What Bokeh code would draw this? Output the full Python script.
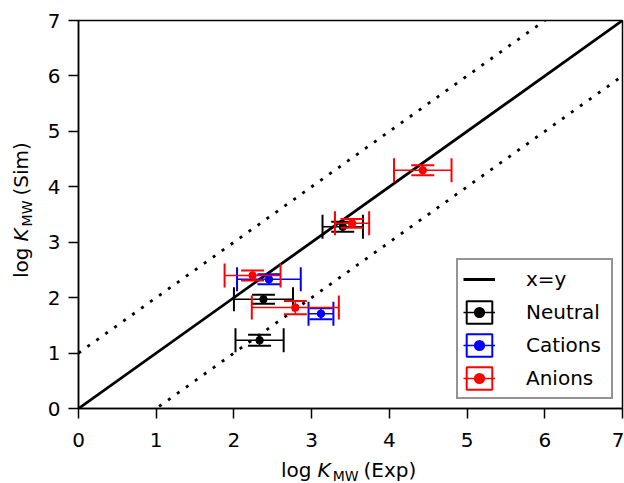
import numpy as np
from bokeh.plotting import figure
from bokeh.models import (ColumnDataSource, Legend, LegendItem, FixedTicker, Range1d, Div)
from bokeh.layouts import column, row
from bokeh.embed import file_html
from bokeh.resources import INLINE

# ---------------- data ----------------
ticks = [0, 1, 2, 3, 4, 5, 6, 7]
ref_x = [0, 7]
band = 1.0

neutral_x = [2.33, 2.38, 3.40]
neutral_y = [1.23, 1.97, 3.28]
neutral_xerr = [0.31, 0.38, 0.26]
neutral_yerr = [0.10, 0.08, 0.09]

cation_x = [2.45, 3.12]
cation_y = [2.33, 1.71]
cation_xerr = [0.41, 0.16]
cation_yerr = [0.09, 0.10]

anion_x = [2.24, 2.79, 3.52, 4.43]
anion_y = [2.40, 1.82, 3.34, 4.30]
anion_xerr = [0.36, 0.56, 0.22, 0.37]
anion_yerr = [0.09, 0.12, 0.08, 0.09]

series = [
    ("Neutral", "#000000", neutral_x, neutral_y, neutral_xerr, neutral_yerr),
    ("Cations", "#0000ff", cation_x, cation_y, cation_xerr, cation_yerr),
    ("Anions", "#ff0000", anion_x, anion_y, anion_xerr, anion_yerr),
]

FONT = "DejaVu Sans"
YL_W = 36          # width of the y-label strip
P_W, P_H = 588, 450
XL_H = 33          # height of the x-label strip

p = figure(width=P_W, height=P_H, x_range=Range1d(0, 7), y_range=Range1d(0, 7),
           output_backend="svg", toolbar_location=None,
           min_border_left=42, min_border_right=2, min_border_top=20, min_border_bottom=42)
p.grid.visible = False
p.outline_line_color = "black"
p.outline_line_width = 1.5
p.background_fill_color = "white"
p.border_fill_color = "white"

for ax in (p.xaxis, p.yaxis):
    ax.ticker = FixedTicker(ticks=ticks)
    ax.major_label_text_font = FONT
    ax.major_label_text_font_size = "20px"
    ax.major_label_text_color = "black"
    ax.minor_tick_line_color = None
    ax.major_tick_out = 10
    ax.major_tick_in = 0
    ax.major_tick_line_width = 1.5
    ax.axis_line_width = 1.5
    ax.axis_line_color = "black"
    ax.major_tick_line_color = "black"
p.xaxis.major_label_standoff = 14
p.yaxis.major_label_standoff = 8

# reference lines
ref_arr = np.array(ref_x, dtype=float)
line_r = p.line(ref_arr, ref_arr, line_color="black", line_width=2.8)
p.line(ref_arr, ref_arr + band, line_color="black", line_width=2.8, line_dash="3 8")
p.line(ref_arr, ref_arr - band, line_color="black", line_width=2.8, line_dash="3 8")

items = [LegendItem(label="x=y", renderers=[line_r])]
for name, color, xs, ys, xe, ye in series:
    x = np.array(xs); y = np.array(ys); dx = np.array(xe); dy = np.array(ye)
    src = ColumnDataSource(dict(x=x, y=y, xl=x - dx, xu=x + dx, yl=y - dy, yu=y + dy))
    # legend-only glyphs (renderers hidden on the plot)
    box = p.quad(left="xl", right="xu", bottom="yl", top="yu", source=src,
                 fill_alpha=0, line_color=color, line_width=2, visible=False)
    ldot = p.scatter(x="x", y="y", source=src, marker="circle", size=8,
                     fill_color=color, line_color=None, visible=False)
    # x error bars
    hseg = p.segment(x0="xl", y0="y", x1="xu", y1="y", source=src,
                     line_color=color, line_width=1.5)
    p.scatter(x="xl", y="y", source=src, marker="dash", angle=np.pi / 2, size=24,
              line_color=color, line_width=2)
    p.scatter(x="xu", y="y", source=src, marker="dash", angle=np.pi / 2, size=24,
              line_color=color, line_width=2)
    # y error bars
    p.segment(x0="x", y0="yl", x1="x", y1="yu", source=src,
              line_color=color, line_width=1.5)
    p.scatter(x="x", y="yl", source=src, marker="dash", size=23,
              line_color=color, line_width=2)
    p.scatter(x="x", y="yu", source=src, marker="dash", size=23,
              line_color=color, line_width=2)
    # points
    p.scatter(x="x", y="y", source=src, marker="circle", size=7.5,
              fill_color=color, line_color=color)
    items.append(LegendItem(label=name, renderers=[box, hseg, ldot]))

legend = Legend(items=items, location="bottom_right", click_policy="none")
legend.label_text_font = FONT
legend.label_text_font_size = "20px"
legend.label_text_color = "black"
legend.glyph_width = 32
legend.glyph_height = 28
legend.label_height = 28
legend.label_width = 80
legend.spacing = 5
legend.padding = 5
legend.label_standoff = 31
legend.margin = 9
legend.inactive_fill_alpha = 0.0
legend.border_line_color = "#2a2a2a"
legend.border_line_width = 2
legend.background_fill_color = "white"
legend.background_fill_alpha = 1.0
p.add_layout(legend)

# axis labels as HTML text: log K_MW with italic K and subscript MW
x_label = ("log", "K", "MW", "(Exp)")
y_label = ("log", "K", "MW", "(Sim)")

def label_html(parts):
    a, k, s, b = parts
    return (f'{a}<i style="margin-left:6px">{k}</i>'
            f'<span style="font-size:14px; vertical-align:-4px; line-height:0; margin-left:2px">{s}</span>'
            f'<span style="margin-left:5px">{b}</span>')

base_style = (f"position:absolute; white-space:nowrap; font-family:'{FONT}'; "
              "font-size:20px; line-height:20px; color:black;")

ydiv = Div(width=YL_W, height=P_H, margin=0,
           text=(f'<div style="position:relative; width:{YL_W}px; height:{P_H}px;">'
                 f'<span style="{base_style} left:11px; top:278px; '
                 f'transform-origin:0 0; transform:rotate(-90deg);">{label_html(y_label)}</span></div>'))
xdiv = Div(width=YL_W + P_W, height=XL_H, margin=0,
           text=(f'<div style="position:relative; width:{YL_W + P_W}px; height:{XL_H}px;">'
                 f'<span style="{base_style} left:281px; top:10px;">{label_html(x_label)}</span></div>'))

layout = column(row(ydiv, p, spacing=0), xdiv, spacing=0)
open("out.html", "w").write(file_html(layout, INLINE))
